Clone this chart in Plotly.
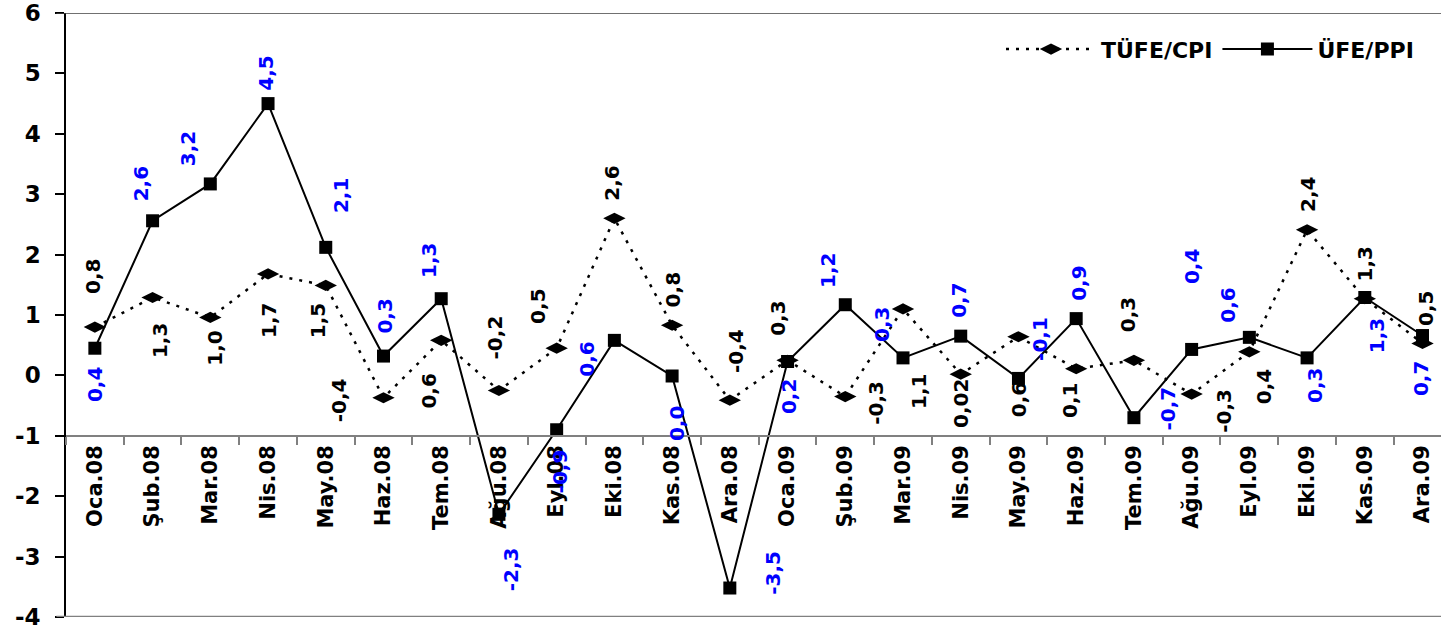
import plotly.graph_objects as go

# aylar
months = ['Oca.08', 'Şub.08', 'Mar.08', 'Nis.08', 'May.08', 'Haz.08', 'Tem.08', 'Ağu.08',
          'Eyl.08', 'Eki.08', 'Kas.08', 'Ara.08', 'Oca.09', 'Şub.09', 'Mar.09', 'Nis.09',
          'May.09', 'Haz.09', 'Tem.09', 'Ağu.09', 'Eyl.09', 'Eki.09', 'Kas.09', 'Ara.09']

# aylık % değişim
cpi = [0.80, 1.29, 0.96, 1.68, 1.49, -0.37, 0.58, -0.25, 0.45, 2.60, 0.83, -0.41,
       0.25, -0.35, 1.10, 0.02, 0.64, 0.11, 0.25, -0.31, 0.39, 2.41, 1.27, 0.53]
ppi = [0.45, 2.56, 3.17, 4.50, 2.12, 0.32, 1.27, -2.30, -0.90, 0.58, -0.01, -3.52,
       0.23, 1.17, 0.29, 0.65, -0.05, 0.94, -0.70, 0.43, 0.63, 0.29, 1.29, 0.66]

cpi_text = ['0,8', '1,3', '1,0', '1,7', '1,5', '-0,4', '0,6', '-0,2', '0,5', '2,6', '0,8', '-0,4',
            '0,3', '-0,3', '1,1', '0,02', '0,6', '0,1', '0,3', '-0,3', '0,4', '2,4', '1,3', '0,5']
ppi_text = ['0,4', '2,6', '3,2', '4,5', '2,1', '0,3', '1,3', '-2,3', '-0,9', '0,6', '0,0', '-3,5',
            '0,2', '1,2', '0,3', '0,7', '-0,1', '0,9', '-0,7', '0,4', '0,6', '0,3', '1,3', '0,7']

y_ticks = [6, 5, 4, 3, 2, 1, 0, -1, -2, -3, -4]

# etiket kaydırmaları (piksel: sağa, aşağı)
cpi_off = [(-2, -51), (8, 43), (5, 31), (1, 47), (-7, 35), (-45, 2), (-12, 51), (-4, -53),
           (-18, -42), (-2, -35), (1, -35), (6, -49), (-9, -42), (30, 6), (16, 83), (0, 29),
           (0, 63), (-6, 32), (-6, -46), (32, 17), (14, 35), (1, -35), (0, -35), (4, -35)]
ppi_off = [(0, 36), (-12, -37), (-22, -35), (-2, -30), (16, -52), (2, -40), (-13, -38), (12, 55),
           (3, 42), (-27, 19), (5, 48), (43, -15), (1, 35), (-18, -34), (-21, -33), (-2, -36),
           (22, -40), (2, -35), (34, -9), (1, -83), (-21, -32), (8, 28), (13, 38), (-2, 43)]

FONT = 'DejaVu Sans'

fig = go.Figure()

fig.add_trace(go.Scatter(
    x=months, y=cpi, name='TÜFE/CPI', mode='lines+markers',
    line=dict(color='black', width=2.5, dash='3px,7px'),
    marker=dict(symbol='diamond-wide', size=16, color='black'),
))
fig.add_trace(go.Scatter(
    x=months, y=ppi, name='ÜFE/PPI', mode='lines+markers',
    line=dict(color='black', width=2),
    marker=dict(symbol='square', size=13, color='black'),
))

# veri etiketleri
for vals, texts, offs, col in [(cpi, cpi_text, cpi_off, 'black'), (ppi, ppi_text, ppi_off, '#0000FF')]:
    for m, v, t, (dx, dy) in zip(months, vals, texts, offs):
        fig.add_annotation(x=m, y=v, text='<b>%s</b>' % t, showarrow=False, textangle=-90,
                           xshift=dx, yshift=-dy, font=dict(family=FONT, size=20, color=col))

# üst ve alt çerçeve çizgileri
fig.add_shape(type='line', xref='paper', yref='y', x0=-0.007, x1=1, y0=6, y1=6,
              line=dict(color='#404040', width=1.5))
fig.add_shape(type='line', xref='paper', yref='y', x0=-0.007, x1=1, y0=-4, y1=-4,
              line=dict(color='#808080', width=2.5))

fig.update_layout(
    width=1441, height=629,
    margin=dict(l=66, r=0, t=13, b=12),
    plot_bgcolor='white', paper_bgcolor='white',
    font=dict(family=FONT, color='black'),
    showlegend=True,
    legend=dict(orientation='h', x=0.984, xanchor='right', y=0.94, yanchor='middle',
                font=dict(family=FONT, size=22, color='black', weight='bold'),
                bgcolor='rgba(0,0,0,0)', itemwidth=90),
    xaxis=dict(
        type='category', range=[-0.5, 23.32], anchor='free', position=0.3,
        showline=True, linecolor='#808080', linewidth=2,
        ticks='outside', tickson='boundaries', ticklen=8, tickcolor='#808080', tickwidth=2,
        tickangle=-90, tickfont=dict(family=FONT, size=21, color='black', weight='bold'),
        showgrid=False, zeroline=False,
    ),
    yaxis=dict(
        range=[-4, 6], domain=[0, 1],
        tickvals=y_ticks, ticktext=['<b>%d</b>' % v for v in y_ticks],
        showline=True, linecolor='black', linewidth=1.5,
        ticks='outside', ticklen=9, tickcolor='black', tickwidth=1.5, ticklabelstandoff=10,
        tickfont=dict(family=FONT, size=23, color='black'), ticklabeloverflow='allow',
        showgrid=False, zeroline=False,
    ),
)

# sayfa kenar boşluğunu kaldır
fig.write_html('out.html', config={'displayModeBar': False},
               post_script="document.body.style.margin='0';")
